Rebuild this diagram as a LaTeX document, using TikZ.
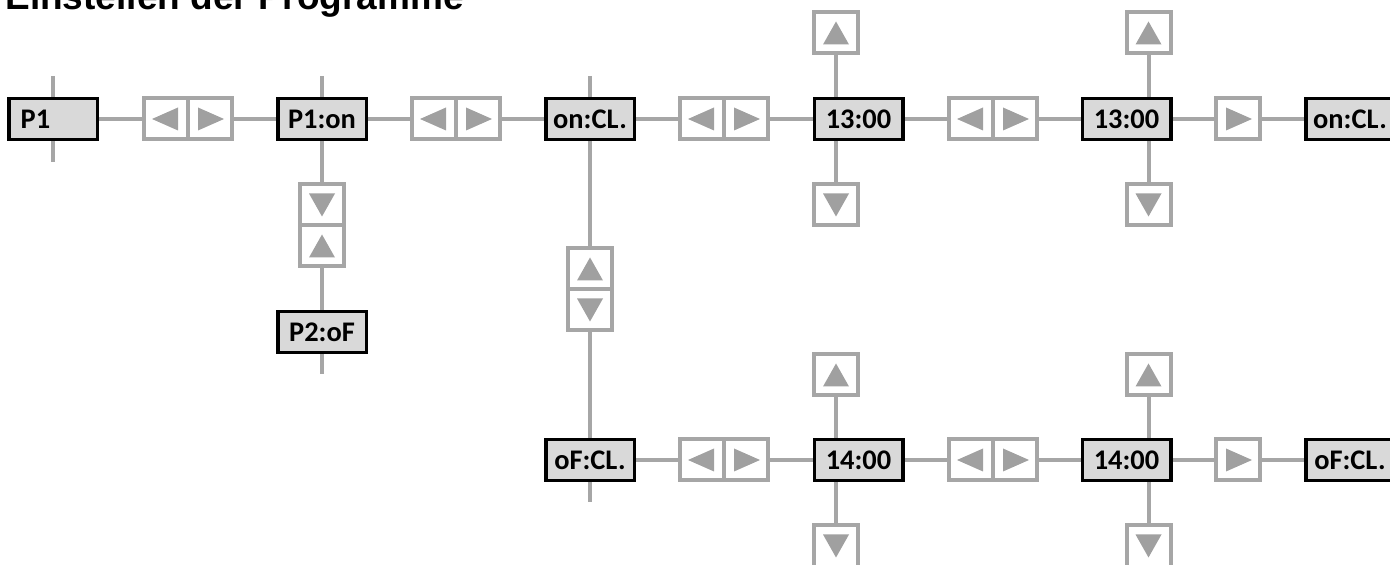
\documentclass[tikz,border=0pt]{standalone}
\usepackage{fontspec}
\setmainfont{Liberation Sans}
\newfontfamily\dispfont{Carlito}
\usetikzlibrary{backgrounds}
\definecolor{btngray}{HTML}{A6A6A6}
\definecolor{trigray}{HTML}{A0A0A0}
\definecolor{dispfill}{HTML}{D9D9D9}
\tikzset{btn/.style={draw=btngray, line width=2pt, minimum width=22pt, minimum height=20.5pt, inner sep=0pt},
  btnup/.style={btn, path picture={\fill[trigray] ([shift={(-6.5pt,-5.75pt)}]path picture bounding box.center) -- ++(13pt,0pt) -- ++(-6.5pt,11.5pt) -- cycle;}},
  btndown/.style={btn, path picture={\fill[trigray] ([shift={(-6.5pt,5.75pt)}]path picture bounding box.center) -- ++(13pt,0pt) -- ++(-6.5pt,-11.5pt) -- cycle;}},
  btnleft/.style={btn, path picture={\fill[trigray] ([shift={(6pt,-5.75pt)}]path picture bounding box.center) -- ++(0pt,11.5pt) -- ++(-13pt,-5.75pt) -- cycle;}},
  btnright/.style={btn, path picture={\fill[trigray] ([shift={(-6pt,-5.75pt)}]path picture bounding box.center) -- ++(0pt,11.5pt) -- ++(13pt,-5.75pt) -- cycle;}}}

\begin{document}
\begin{tikzpicture}[x=0.5pt, y=-0.5pt]
		\useasboundingbox (0,0) rectangle (1390,565);
		\tikzstyle{disp} = [draw=black, line width=1.75pt, fill=dispfill, minimum width=44.25pt, minimum height=20.5pt, inner sep=1pt, font=\dispfont\bfseries\fontsize{14.2}{17}\selectfont]
		\tikzstyle{conn} = [draw=btngray, line width=2pt]

		\node[anchor=base west, inner sep=0pt, font=\bfseries\fontsize{18.5}{21}\selectfont] (title) at (5,10) {Einstellen der Programme};

		\node[disp, inner xsep=6pt, text width=32.25pt, align=left] (p1) at (53,119) {P1};
		\node[btnleft] (b1l) at (166,119) {};
		\node[btnright] (b1r) at (210,119) {};
		\node[disp] (p1on) at (322,119) {P1:on};
		\node[btnleft] (b2l) at (434,119) {};
		\node[btnright] (b2r) at (478,119) {};
		\node[disp] (oncl) at (590,119) {on:CL.};
		\node[btnleft] (b3l) at (702,119) {};
		\node[btnright] (b3r) at (746,119) {};
		\node[disp] (t1) at (858.5,119) {13:00};
		\node[btnleft] (b4l) at (971,119) {};
		\node[btnright] (b4r) at (1015,119) {};
		\node[disp] (t2) at (1126.5,119) {13:00};
		\node[btnright] (b5r) at (1238,119) {};
		\node[disp] (oncl2) at (1350,119) {on:CL.};

		\node[btnup] (t1u) at (836,33) {};
		\node[btndown] (t1d) at (836,205) {};
		\node[btnup] (t2u) at (1148.5,33) {};
		\node[btndown] (t2d) at (1148.5,205) {};

		\node[btndown] (p1d) at (322,205) {};
		\node[btnup] (p1u) at (322,246) {};
		\node[disp] (p2of) at (322,332) {P2:oF};
		\node[btnup] (ocu) at (590,269) {};
		\node[btndown] (ocd) at (590,310) {};

		\node[disp] (ofcl) at (590,460) {oF:CL.};
		\node[btnleft] (b6l) at (702,460) {};
		\node[btnright] (b6r) at (746,460) {};
		\node[disp] (s1) at (858.5,460) {14:00};
		\node[btnleft] (b7l) at (971,460) {};
		\node[btnright] (b7r) at (1015,460) {};
		\node[disp] (s2) at (1126.5,460) {14:00};
		\node[btnright] (b8r) at (1238,460) {};
		\node[disp] (ofcl2) at (1350,460) {oF:CL.};

		\node[btnup] (s1u) at (836,375) {};
		\node[btndown] (s1d) at (836,546) {};
		\node[btnup] (s2u) at (1148.5,375) {};
		\node[btndown] (s2d) at (1148.5,546) {};

		\coordinate (p1a) at (53,76);
		\coordinate (p1b) at (53,162);
		\coordinate (p1ona) at (322,76);
		\coordinate (oncla) at (590,76);
		\coordinate (p2ofb) at (322,374);
		\coordinate (ofclb) at (590,502);

		\begin{pgfonlayer}{background}
		\draw [conn] (p1a) -- (p1);
		\draw [conn] (p1) -- (p1b);
		\draw [conn] (p1) -- (b1l);
		\draw [conn] (b1r) -- (p1on);
		\draw [conn] (p1ona) -- (p1on);
		\draw [conn] (p1on) -- (b2l);
		\draw [conn] (b2r) -- (oncl);
		\draw [conn] (oncla) -- (oncl);
		\draw [conn] (oncl) -- (b3l);
		\draw [conn] (b3r) -- (t1);
		\draw [conn] (t1) -- (b4l);
		\draw [conn] (b4r) -- (t2);
		\draw [conn] (t2) -- (b5r);
		\draw [conn] (b5r) -- (oncl2);
		\draw [conn] (t1u) -- (t1u |- t1.north);
		\draw [conn] (t1d) -- (t1d |- t1.south);
		\draw [conn] (t2u) -- (t2u |- t2.north);
		\draw [conn] (t2d) -- (t2d |- t2.south);
		\draw [conn] (p1on) -- (p1d);
		\draw [conn] (p1u) -- (p2of);
		\draw [conn] (p2of) -- (p2ofb);
		\draw [conn] (oncl) -- (ocu);
		\draw [conn] (ocd) -- (ofcl);
		\draw [conn] (ofcl) -- (ofclb);
		\draw [conn] (ofcl) -- (b6l);
		\draw [conn] (b6r) -- (s1);
		\draw [conn] (s1) -- (b7l);
		\draw [conn] (b7r) -- (s2);
		\draw [conn] (s2) -- (b8r);
		\draw [conn] (b8r) -- (ofcl2);
		\draw [conn] (s1u) -- (s1u |- s1.north);
		\draw [conn] (s1d) -- (s1d |- s1.south);
		\draw [conn] (s2u) -- (s2u |- s2.north);
		\draw [conn] (s2d) -- (s2d |- s2.south);
		\end{pgfonlayer}
\end{tikzpicture}
\end{document}
